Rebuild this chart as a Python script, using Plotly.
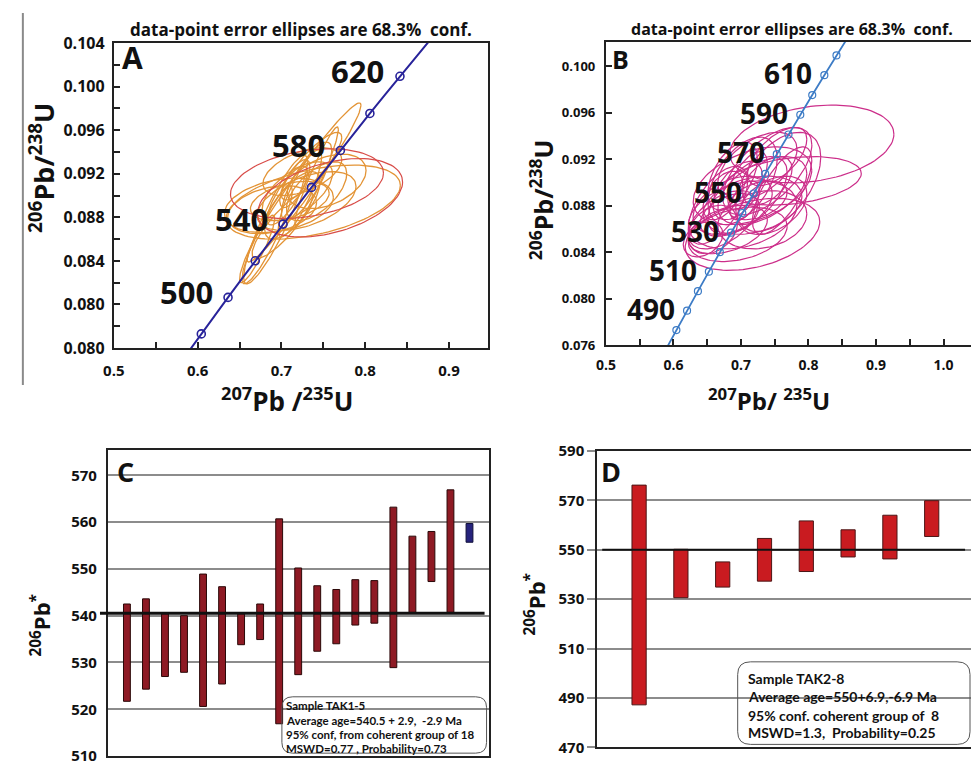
import numpy as np
import plotly.graph_objects as go

W, H = 971, 769
FONT = "Open Sans"
BOXFONT = "Lato"

# ---------------- data ----------------
# Concordia (age in Ma, 207Pb/235U, 206Pb/238U)
conc_age = [460, 470, 480, 490, 500, 510, 520, 530, 540, 550,
            560, 570, 580, 590, 600, 610, 620, 630, 640, 650]
conc_x207 = [0.5731, 0.5886, 0.6044, 0.6202, 0.6363, 0.6525, 0.6688, 0.6853, 0.7020, 0.7189,
             0.7359, 0.7531, 0.7704, 0.7879, 0.8056, 0.8235, 0.8415, 0.8598, 0.8782, 0.8968]
conc_y206 = [0.07397, 0.07563, 0.07730, 0.07897, 0.08065, 0.08233, 0.08401, 0.08569, 0.08738, 0.08906,
             0.09075, 0.09245, 0.09414, 0.09584, 0.09754, 0.09925, 0.10095, 0.10266, 0.10438, 0.10609]
markA_ages = [480, 500, 520, 540, 560, 580, 600, 620]
markB_ages = [480, 490, 500, 510, 520, 530, 540, 550, 560, 570, 580, 590, 600, 610, 620]
labA_ages = [500, 540, 580, 620]
labB_ages = [490, 510, 530, 550, 570, 590, 610]

# Panel A ellipses (centre, half-widths, correlation)
a_or_x = [0.727, 0.693, 0.738, 0.689, 0.719, 0.730, 0.713, 0.725, 0.707, 0.742, 0.701,
          0.730, 0.716, 0.754, 0.683, 0.736, 0.710, 0.722, 0.697, 0.742, 0.671]
a_or_y = [0.0912, 0.0878, 0.0894, 0.0887, 0.0904, 0.0913, 0.0891, 0.0922, 0.0900, 0.0904, 0.0873,
          0.0895, 0.0911, 0.0913, 0.0864, 0.0927, 0.0895, 0.0902, 0.0891, 0.0918, 0.0851]
a_or_sx = [0.068, 0.038, 0.104, 0.053, 0.042, 0.030, 0.033, 0.047, 0.024, 0.036, 0.036,
           0.059, 0.018, 0.047, 0.030, 0.036, 0.047, 0.026, 0.065, 0.026, 0.021]
a_or_sy = [0.0073, 0.0059, 0.0034, 0.0022, 0.0027, 0.0036, 0.0031, 0.0022, 0.0027, 0.0027, 0.0031,
           0.0027, 0.0022, 0.0025, 0.0045, 0.0031, 0.0018, 0.0040, 0.0025, 0.0045, 0.0031]
a_or_rho = [0.97, 0.90, 0.45, 0.30, 0.60, 0.80, 0.70, 0.50, 0.80, 0.60, 0.85,
            0.50, 0.70, 0.40, 0.90, 0.85, 0.40, 0.85, 0.30, 0.95, 0.90]
a_rd_x = [0.7305, 0.758]
a_rd_y = [0.0911, 0.0898]
a_rd_sx = [0.0913, 0.0866]
a_rd_sy = [0.0032, 0.0036]
a_rd_rho = [0.30, 0.40]

# Panel B ellipses
b_x = [0.805, 0.7757, 0.7552, 0.7171, 0.7098, 0.7025, 0.7317, 0.6878, 0.6732, 0.7244,
       0.7391, 0.6952, 0.7171, 0.6805, 0.6585, 0.7464, 0.7025, 0.7098, 0.7244, 0.6878,
       0.7317, 0.6659, 0.7171, 0.7054, 0.6439, 0.7610, 0.6952, 0.7391, 0.6732, 0.7537, 0.6834]
b_y = [0.09333, 0.09015, 0.09006, 0.08554, 0.08889, 0.09015, 0.08931, 0.08805, 0.0868, 0.0914,
       0.09098, 0.08931, 0.08805, 0.08596, 0.08596, 0.08805, 0.08722, 0.09015, 0.08847, 0.09056,
       0.0868, 0.08805, 0.08973, 0.08847, 0.08512, 0.08931, 0.08554, 0.09015, 0.08889, 0.09224, 0.08722]
b_sx = [0.1215, 0.1025, 0.063, 0.0996, 0.0586, 0.0512, 0.0659, 0.0586, 0.0512, 0.0586,
        0.0659, 0.0366, 0.0732, 0.0586, 0.0366, 0.0512, 0.0805, 0.0293, 0.0439, 0.0366,
        0.0659, 0.0439, 0.0878, 0.022, 0.0293, 0.0439, 0.0732, 0.0366, 0.0293, 0.0439, 0.0439]
b_sy = [0.00335, 0.00209, 0.00427, 0.0031, 0.00335, 0.00377, 0.00293, 0.00251, 0.00251, 0.00293,
        0.00377, 0.00251, 0.00251, 0.00209, 0.00209, 0.00251, 0.00293, 0.00251, 0.00167, 0.00293,
        0.00251, 0.00335, 0.00335, 0.00167, 0.00151, 0.00377, 0.00234, 0.00209, 0.00209, 0.00251, 0.00184]
b_rho = [0.25, 0.30, 0.50, 0.35, 0.60, 0.50, 0.50, 0.40, 0.50, 0.50,
         0.60, 0.50, 0.30, 0.40, 0.30, 0.40, 0.30, 0.60, 0.40, 0.50,
         0.20, 0.60, 0.40, 0.50, 0.30, 0.70, 0.30, 0.50, 0.50, 0.60, 0.40]

# Panel C: 206Pb* ages, TAK1-5
c_idx = list(range(1, 19))
c_low = [521.7, 524.3, 527.0, 527.9, 520.6, 525.4, 533.8, 534.9, 516.9,
         527.4, 532.4, 534.0, 538.0, 538.4, 528.9, 540.7, 547.3, 540.7]
c_high = [542.5, 543.6, 540.5, 540.0, 548.9, 546.2, 540.5, 542.5, 560.7,
          550.2, 546.4, 545.6, 547.7, 547.5, 563.2, 557.0, 558.0, 566.9]
c_rej_idx = [19]
c_rej_low = [555.7]
c_rej_high = [559.7]
c_mean = 540.5

# Panel D: 206Pb* ages, TAK2-8
d_idx = list(range(1, 9))
d_low = [487.2, 530.6, 534.9, 537.3, 541.2, 547.1, 546.3, 555.4]
d_high = [576.2, 550.2, 545.1, 554.6, 561.7, 558.1, 564.0, 569.9]
d_mean = 550.0

a_xticks = [0.5, 0.6, 0.7, 0.8, 0.9]
a_yticks = [0.076, 0.080, 0.084, 0.088, 0.092, 0.096, 0.100, 0.104]
a_yticktext = ["0.080", "0.080", "0.084", "0.088", "0.092", "0.096", "0.100", "0.104"]
b_xticks = [0.5, 0.6, 0.7, 0.8, 0.9, 1.0]
b_yticks = [0.076, 0.080, 0.084, 0.088, 0.092, 0.096, 0.100]
c_yticks = [510, 520, 530, 540, 550, 560, 570]
d_yticks = [470, 490, 510, 530, 550, 570, 590]

c_text = ["Sample TAK1-5", "Average age=540.5 + 2.9,  -2.9 Ma",
          "95% conf, from coherent group of 18", "MSWD=0.77 , Probability=0.73"]
d_text = ["Sample TAK2-8", "Average age=550+6.9,-6.9 Ma",
          "95% conf. coherent group of  8", "MSWD=1.3,  Probability=0.25"]
title_txt = "data-point error ellipses are 68.3%  conf."


# ---------------- helpers ----------------
def ellipse_trace(xs, ys, sxs, sys_, rhos, color, xa, ya, width=1.2):
    X, Y = [], []
    t = np.linspace(0, 2 * np.pi, 100)
    for cx, cy, sx, sy, r in zip(xs, ys, sxs, sys_, rhos):
        X += list(cx + sx * np.cos(t)) + [None]
        Y += list(cy + sy * (r * np.cos(t) + np.sqrt(1 - r * r) * np.sin(t))) + [None]
    return go.Scatter(x=X, y=Y, mode="lines", line=dict(color=color, width=width),
                      xaxis=xa, yaxis=ya, hoverinfo="skip", showlegend=False)


def pick(ages):
    return ([conc_x207[conc_age.index(a)] for a in ages],
            [conc_y206[conc_age.index(a)] for a in ages])


def PX(p):
    return p / W


def PY(p):
    return 1 - p / H


def ann(text, x, y, size, family=FONT, angle=0, xanchor="center", yanchor="middle",
        color="#111111", weight="bold"):
    return dict(text=text, x=PX(x), y=PY(y), xref="paper", yref="paper", showarrow=False,
                font=dict(family=family, size=size, color=color, weight=weight),
                textangle=angle, xanchor=xanchor, yanchor=yanchor)


def rrect(x0, y0, x1, y1, r):
    rx, ry = r / W, r / H
    a, b, c, d = PX(x0), PY(y0), PX(x1), PY(y1)
    return (f"M {a+rx} {b} L {c-rx} {b} Q {c} {b} {c} {b-ry} L {c} {d+ry} Q {c} {d} {c-rx} {d} "
            f"L {a+rx} {d} Q {a} {d} {a} {d+ry} L {a} {b-ry} Q {a} {b} {a+rx} {b} Z")


fig = go.Figure()

# ---- Panel A ----
fig.add_trace(ellipse_trace(a_or_x, a_or_y, a_or_sx, a_or_sy, a_or_rho, "#e39436", "x", "y", 1.3))
fig.add_trace(ellipse_trace(a_rd_x, a_rd_y, a_rd_sx, a_rd_sy, a_rd_rho, "#d84c48", "x", "y", 1.2))
fig.add_trace(go.Scatter(x=conc_x207, y=conc_y206, mode="lines", line=dict(color="#28239a", width=2),
                         xaxis="x", yaxis="y", hoverinfo="skip", showlegend=False))
mx, my = pick(markA_ages)
fig.add_trace(go.Scatter(x=mx, y=my, mode="markers",
                         marker=dict(symbol="circle-open", size=8, color="#28239a", line=dict(width=1.6)),
                         xaxis="x", yaxis="y", hoverinfo="skip", showlegend=False))

# ---- Panel B ----
fig.add_trace(ellipse_trace(b_x, b_y, b_sx, b_sy, b_rho, "#cc2e8a", "x2", "y2", 1.2))
fig.add_trace(go.Scatter(x=conc_x207, y=conc_y206, mode="lines", line=dict(color="#3d7cc6", width=1.8),
                         xaxis="x2", yaxis="y2", hoverinfo="skip", showlegend=False))
mx, my = pick(markB_ages)
fig.add_trace(go.Scatter(x=mx, y=my, mode="markers",
                         marker=dict(symbol="circle-open", size=7, color="#3d7cc6", line=dict(width=1.2)),
                         xaxis="x2", yaxis="y2", hoverinfo="skip", showlegend=False))

# ---- Panel C ----
fig.add_trace(go.Bar(x=c_idx, y=[h - l for h, l in zip(c_high, c_low)], base=c_low, width=0.36,
                     marker=dict(color="#8e1a24", line=dict(color="#2a0808", width=1)),
                     xaxis="x3", yaxis="y3", hoverinfo="skip", showlegend=False))
fig.add_trace(go.Bar(x=c_rej_idx, y=[h - l for h, l in zip(c_rej_high, c_rej_low)], base=c_rej_low,
                     width=0.36, marker=dict(color="#26237c", line=dict(color="#10103a", width=1)),
                     xaxis="x3", yaxis="y3", hoverinfo="skip", showlegend=False))

# ---- Panel D ----
fig.add_trace(go.Bar(x=d_idx, y=[h - l for h, l in zip(d_high, d_low)], base=d_low, width=0.34,
                     marker=dict(color="#c91b20", line=dict(color="#4a1616", width=1)),
                     xaxis="x4", yaxis="y4", hoverinfo="skip", showlegend=False))

# ---------------- layout ----------------
LINE = dict(showline=True, linecolor="#222222", linewidth=2, zeroline=False, showgrid=False)

layout = dict(
    width=W, height=H, margin=dict(l=0, r=0, t=0, b=0),
    paper_bgcolor="white", plot_bgcolor="white", showlegend=False, barmode="overlay",
    xaxis=dict(**LINE, domain=[PX(104), PX(482)], range=[0.5, 0.946], anchor="y", mirror=True,
               tickmode="array", tickvals=a_xticks, ticktext=["0.5", "0.6", "0.7", "0.8", "0.9"],
               ticks="inside", ticklen=6, tickwidth=1.5, tickcolor="#222222",
               tickfont=dict(family=FONT, size=15, color="#111111", weight="bold"),
               ticklabelstandoff=8,
               minor=dict(tickmode="linear", tick0=0.5, dtick=0.05, ticks="inside", ticklen=6,
                          tickwidth=1.5, tickcolor="#222222")),
    yaxis=dict(**LINE, domain=[PY(347), PY(33)], range=[0.076, 0.104], anchor="x", mirror=True,
               tickmode="array", tickvals=a_yticks, ticktext=a_yticktext,
               ticks="inside", ticklen=6, tickwidth=1.5, tickcolor="#222222",
               tickfont=dict(family=FONT, size=16, color="#111111", weight="bold"),
               ticklabelstandoff=4,
               minor=dict(tickmode="linear", tick0=0.076, dtick=0.002, ticks="inside", ticklen=6,
                          tickwidth=1.5, tickcolor="#222222")),
    xaxis2=dict(**LINE, domain=[PX(601.7), 1.0], range=[0.5, 1.0407], anchor="y2", mirror=True,
                tickmode="array", tickvals=b_xticks, ticktext=["0.5", "0.6", "0.7", "0.8", "0.9", "1.0"],
                ticks="inside", ticklen=6, tickwidth=1.5, tickcolor="#222222",
                tickfont=dict(family=FONT, size=14, color="#111111", weight="bold"),
                ticklabelstandoff=6,
                minor=dict(tickmode="linear", tick0=0.5, dtick=0.05, ticks="inside", ticklen=6,
                           tickwidth=1.5, tickcolor="#222222")),
    yaxis2=dict(**LINE, domain=[PY(344), PY(32)], range=[0.076, 0.1021], anchor="x2",
                tickmode="array", tickvals=b_yticks,
                ticktext=["0.076", "0.080", "0.084", "0.088", "0.092", "0.096", "0.100"],
                ticks="inside", ticklen=6, tickwidth=1.5, tickcolor="#222222",
                tickfont=dict(family=FONT, size=13, color="#111111", weight="bold"),
                ticklabelstandoff=6),
    xaxis3=dict(**LINE, domain=[PX(98), PX(483)], range=[0, 20], anchor="y3", mirror=True,
                showticklabels=False, ticks=""),
    yaxis3=dict(showline=True, linecolor="#222222", linewidth=2, zeroline=False, mirror=True,
                domain=[PY(767), PY(452)], range=[510, 575.4], anchor="x3",
                tickmode="array", tickvals=c_yticks, showgrid=True, gridcolor="#8c8c8c", gridwidth=1.5,
                ticks="", tickfont=dict(family=FONT, size=15, color="#111111", weight="bold"),
                ticklabelstandoff=6),
    xaxis4=dict(**LINE, domain=[PX(593), 1.0], range=[0, 8.94], anchor="y4", mirror=True,
                showticklabels=False, ticks=""),
    yaxis4=dict(showline=True, linecolor="#222222", linewidth=2, zeroline=False,
                domain=[PY(758), PY(453)], range=[470, 590], anchor="x4",
                tickmode="array", tickvals=d_yticks, showgrid=True, gridcolor="#8c8c8c", gridwidth=1.5,
                ticks="outside", ticklen=8, tickcolor="#8c8c8c", tickwidth=1.5,
                tickfont=dict(family=FONT, size=15, color="#111111", weight="bold"),
                ticklabelstandoff=0),
)

shapes = [
    # left page rule
    dict(type="line", xref="paper", yref="paper", x0=PX(12), x1=PX(12), y0=PY(2), y1=PY(385),
         line=dict(color="#8a8a8a", width=2)),
    # mean lines
    dict(type="line", xref="paper", yref="y3", x0=PX(90), x1=PX(479), y0=c_mean, y1=c_mean,
         line=dict(color="#111111", width=3), layer="above"),
    dict(type="line", xref="paper", yref="y4", x0=PX(598), x1=PX(965), y0=d_mean, y1=d_mean,
         line=dict(color="#111111", width=2), layer="above"),
    # text boxes
    dict(type="path", xref="paper", yref="paper", path=rrect(274, 706, 481, 764, 11),
         line=dict(color="#555555", width=1)),
    dict(type="path", xref="paper", yref="paper", path=rrect(735, 670, 970, 755, 13),
         line=dict(color="#555555", width=1)),
]
layout["shapes"] = shapes

annotations = [
    ann(title_txt, 293, 19, 17),
    ann(title_txt, 790, 19, 16),
    ann("A", 123, 48, 30),
    ann("B", 616, 49, 25),
    ann("C", 116, 474, 27),
    ann("D", 607, 474, 27),
    ann("<sup>206</sup>Pb/<sup>238</sup>U", 31, 162, 27, angle=-90),
    ann("<sup>206</sup>Pb/<sup>238</sup>U", 537, 194, 25, angle=-90),
    ann("<sup>207</sup>Pb /<sup>235</sup>U", 279, 400, 26),
    ann("<sup>207</sup>Pb/ <sup>235</sup>U", 767, 400, 24),
    ann("<sup>206</sup>Pb<sup>*</sup>", 30, 632, 22, angle=-90),
    ann("<sup>206</sup>Pb<sup>*</sup>", 530, 610, 22, angle=-90),
]
# concordia age labels tied to the concordia points
for a in labA_ages:
    i = conc_age.index(a)
    annotations.append(dict(text=str(a), x=conc_x207[i], y=conc_y206[i], xref="x", yref="y",
                            showarrow=False, xshift=-42, yshift=5,
                            font=dict(family=FONT, size=31, color="#111111", weight="bold")))
for a in labB_ages:
    i = conc_age.index(a)
    annotations.append(dict(text=str(a), x=conc_x207[i], y=conc_y206[i], xref="x2", yref="y2",
                            showarrow=False, xshift=-36, yshift=2,
                            font=dict(family=FONT, size=28, color="#111111", weight="bold")))
for t, yy in zip(c_text, [715, 730, 745, 759]):
    annotations.append(ann(t, 276, yy, 11.5, family=BOXFONT, xanchor="left"))
for t, yy in zip(d_text, [687, 706, 725, 743]):
    annotations.append(ann(t, 743, yy, 14, family=BOXFONT, xanchor="left"))
layout["annotations"] = annotations

fig.update_layout(**layout)
fig.write_html("out.html")
